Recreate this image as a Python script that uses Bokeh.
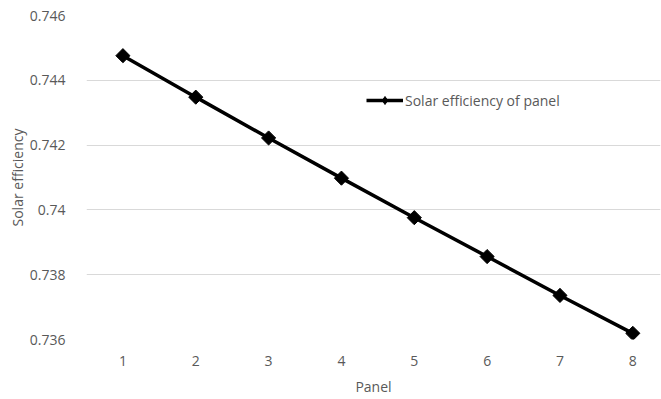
import math
from bokeh.plotting import figure
from bokeh.models import Range1d, FixedTicker, Legend, LegendItem
from bokeh.embed import file_html
from bokeh.resources import INLINE

# Solar efficiency for each panel
panels = [1, 2, 3, 4, 5, 6, 7, 8]
efficiency = [0.74476, 0.74348, 0.74222, 0.74098, 0.73976, 0.73856, 0.73736, 0.73619]
y_ticks = [0.736, 0.738, 0.740, 0.742, 0.744, 0.746]
y_tick_labels = {0.736: "0.736", 0.738: "0.738", 0.740: "0.74",
                 0.742: "0.742", 0.744: "0.744", 0.746: "0.746"}

FONT = "Open Sans"
GREY = "#595959"

p = figure(width=661, height=399, output_backend="svg", toolbar_location=None,
           x_range=Range1d(0.5, 8.38), y_range=Range1d(0.736, 0.746),
           min_border_left=86, min_border_right=1, min_border_top=15,
           min_border_bottom=60)
p.outline_line_color = None
p.background_fill_color = "white"
p.border_fill_color = "white"

line_r = p.line(panels, efficiency, line_color="black", line_width=3.5)
# square markers turned 45 degrees give an even diamond
mark_r = p.scatter(panels, efficiency, marker="square", size=10,
                   angle=math.pi / 4, fill_color="black", line_color="black")
# smaller diamond for the legend swatch (hidden under the larger markers)
key_r = p.scatter(panels, efficiency, marker="diamond", size=8,
                  fill_color="black", line_color="black")

# axes
p.xaxis.ticker = FixedTicker(ticks=panels)
p.yaxis.ticker = FixedTicker(ticks=y_ticks)
p.yaxis.major_label_overrides = y_tick_labels
for ax in (p.xaxis[0], p.yaxis[0]):
    ax.axis_line_color = None
    ax.major_tick_line_color = None
    ax.minor_tick_line_color = None
    ax.major_label_text_font = FONT
    ax.major_label_text_font_size = "14px"
    ax.major_label_text_color = GREY
    ax.axis_label_text_font = FONT
    ax.axis_label_text_font_size = "14px"
    ax.axis_label_text_color = GREY
    ax.axis_label_text_font_style = "normal"
p.xaxis.axis_label = "Panel"
p.yaxis.axis_label = "Solar efficiency"
p.xaxis.major_label_standoff = 10
p.yaxis.major_label_standoff = 15
p.xaxis.axis_label_standoff = 8
p.yaxis.axis_label_standoff = 0

p.xgrid.grid_line_color = None
p.ygrid.grid_line_color = "#d9d9d9"
p.ygrid.grid_line_width = 1

legend = Legend(items=[LegendItem(label="Solar efficiency of panel",
                                  renderers=[line_r, key_r])],
                location=(280, 229), glyph_width=37, glyph_height=20,
                label_standoff=2, padding=0, margin=0,
                border_line_alpha=0, background_fill_alpha=0,
                label_text_font=FONT, label_text_font_size="14px",
                label_text_color=GREY)
p.add_layout(legend)

open("out.html", "w").write(file_html(p, INLINE))
